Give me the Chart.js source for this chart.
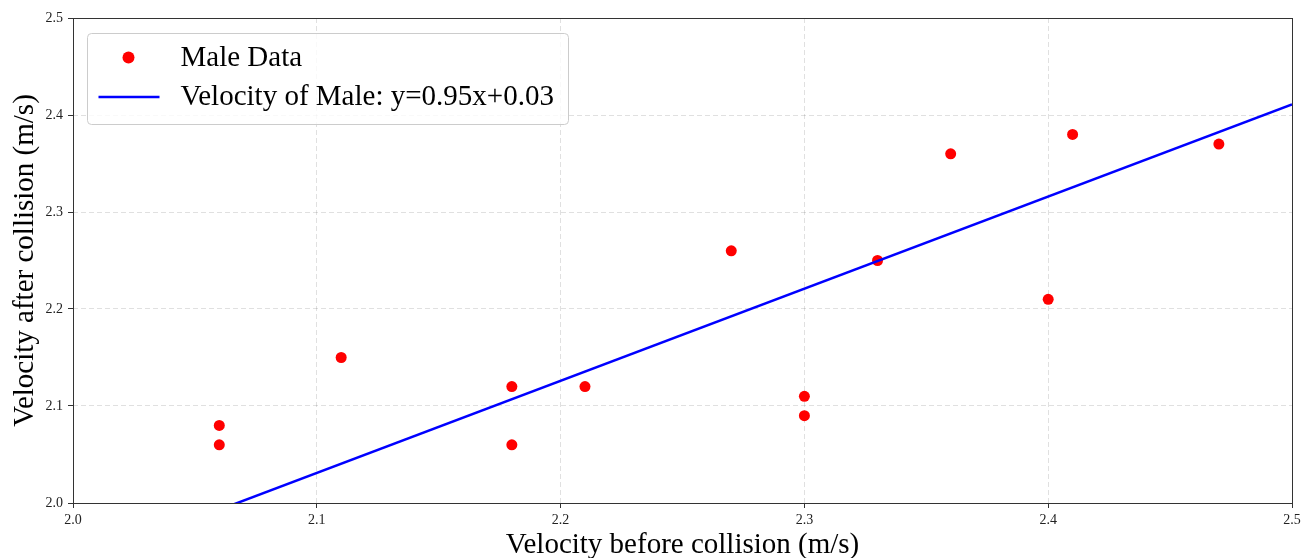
<!DOCTYPE html>
<html>
<head>
<meta charset="utf-8">
<script src="https://cdn.jsdelivr.net/npm/chart.js@4/dist/chart.umd.min.js"></script>
<style>
  html, body { margin: 0; padding: 0; background: #fff; }
  #wrap { width: 1313px; height: 558px; }
</style>
</head>
<body>
<div id="wrap"><canvas id="c" width="1313" height="558"></canvas></div>
<script>
// ---- data ----
const maleX = [2.06, 2.06, 2.11, 2.18, 2.18, 2.21, 2.27, 2.30, 2.30, 2.33, 2.36, 2.40, 2.41, 2.47];
const maleY = [2.08, 2.06, 2.15, 2.12, 2.06, 2.12, 2.26, 2.11, 2.09, 2.25, 2.36, 2.21, 2.38, 2.37];
const fitX = [2.0, 2.5];
const fitY = [1.936, 2.411];
const scatterLabel = 'Male Data';
const lineLabel = 'Velocity of Male: y=0.95x+0.03';
const xTitle = 'Velocity before collision (m/s)';
const yTitle = 'Velocity after collision (m/s)';
const xTicks = [2.0, 2.1, 2.2, 2.3, 2.4, 2.5];
const yTicks = [2.0, 2.1, 2.2, 2.3, 2.4, 2.5];

const SERIF = "'Liberation Serif', 'DejaVu Serif', serif";

const scatterData = maleX.map((x, i) => ({ x: x, y: maleY[i] }));
const lineData = fitX.map((x, i) => ({ x: x, y: fitY[i] }));

const spines = {
  id: 'spines',
  afterDatasetsDraw(chart) {
    const { ctx, chartArea: a } = chart;
    ctx.save();
    ctx.strokeStyle = '#333';
    ctx.lineWidth = 1;
    ctx.strokeRect(Math.round(a.left) + 0.5, Math.round(a.top) + 0.5,
                   Math.round(a.right - a.left), Math.round(a.bottom - a.top));
    ctx.restore();
  }
};

const legendBox = {
  id: 'legendBox',
  afterDraw(chart) {
    const { ctx, chartArea: a } = chart;
    const ds = chart.data.datasets;
    const sc = ds.find(d => d.type === 'scatter');
    const ln = ds.find(d => d.type === 'line');
    const x0 = a.left + 14.5, y0 = a.top + 15.5, w = 481, h = 91, r = 4;
    ctx.save();
    ctx.beginPath();
    ctx.moveTo(x0 + r, y0);
    ctx.lineTo(x0 + w - r, y0);
    ctx.quadraticCurveTo(x0 + w, y0, x0 + w, y0 + r);
    ctx.lineTo(x0 + w, y0 + h - r);
    ctx.quadraticCurveTo(x0 + w, y0 + h, x0 + w - r, y0 + h);
    ctx.lineTo(x0 + r, y0 + h);
    ctx.quadraticCurveTo(x0, y0 + h, x0, y0 + h - r);
    ctx.lineTo(x0, y0 + r);
    ctx.quadraticCurveTo(x0, y0, x0 + r, y0);
    ctx.closePath();
    ctx.fillStyle = 'rgba(255,255,255,0.8)';
    ctx.fill();
    ctx.strokeStyle = '#cccccc';
    ctx.lineWidth = 1;
    ctx.stroke();

    // scatter marker
    ctx.beginPath();
    ctx.arc(x0 + 41, y0 + 24, 6, 0, Math.PI * 2);
    ctx.fillStyle = sc.backgroundColor;
    ctx.fill();
    // line marker
    ctx.beginPath();
    ctx.moveTo(x0 + 11, y0 + 63.5);
    ctx.lineTo(x0 + 72, y0 + 63.5);
    ctx.strokeStyle = ln.borderColor;
    ctx.lineWidth = 2.5;
    ctx.stroke();

    ctx.fillStyle = '#000';
    ctx.font = '29px ' + SERIF;
    ctx.textBaseline = 'middle';
    ctx.textAlign = 'left';
    ctx.fillText(sc.label, x0 + 93, y0 + 25);
    ctx.fillText(ln.label, x0 + 93, y0 + 64);
    ctx.restore();
  }
};

new Chart(document.getElementById('c'), {
  data: {
    datasets: [
      {
        type: 'line',
        label: lineLabel,
        data: lineData,
        borderColor: '#0000ff',
        borderWidth: 2.5,
        pointRadius: 0,
        fill: false,
        tension: 0,
        order: 0
      },
      {
        type: 'scatter',
        label: scatterLabel,
        data: scatterData,
        backgroundColor: '#ff0000',
        borderColor: '#ff0000',
        borderWidth: 0,
        pointRadius: 5.5,
        order: 1
      }
    ]
  },
  options: {
    responsive: false,
    animation: false,
    layout: { padding: { left: 0, right: 21, top: 18, bottom: 0 } },
    plugins: {
      legend: { display: false },
      tooltip: { enabled: false }
    },
    scales: {
      x: {
        type: 'linear',
        position: 'bottom',
        min: xTicks[0],
        max: xTicks[xTicks.length - 1],
        afterBuildTicks(scale) { scale.ticks = xTicks.map(v => ({ value: v })); },
        afterFit(scale) { scale.height = 55; },
        border: { display: false, dash: [5, 3] },
        grid: {
          color: 'rgba(0,0,0,0.12)',
          lineWidth: 1,
          tickColor: '#333',
          tickLength: 5,
          tickBorderDash: []
        },
        ticks: {
          color: '#222',
          font: { family: SERIF, size: 14 },
          padding: 4,
          maxRotation: 0,
          callback: v => Number(v).toFixed(1)
        },
        title: {
          display: true,
          text: xTitle,
          color: '#000',
          font: { family: SERIF, size: 29, lineHeight: 0.88 },
          padding: { top: 0, bottom: 0 }
        }
      },
      y: {
        type: 'linear',
        position: 'left',
        min: yTicks[0],
        max: yTicks[yTicks.length - 1],
        afterBuildTicks(scale) { scale.ticks = yTicks.map(v => ({ value: v })); },
        afterFit(scale) { scale.width = 73; },
        border: { display: false, dash: [5, 3] },
        grid: {
          color: 'rgba(0,0,0,0.12)',
          lineWidth: 1,
          tickColor: '#333',
          tickLength: 5,
          tickBorderDash: []
        },
        ticks: {
          color: '#222',
          font: { family: SERIF, size: 14 },
          padding: 5,
          callback: v => Number(v).toFixed(1)
        },
        title: {
          display: true,
          text: yTitle,
          color: '#000',
          font: { family: SERIF, size: 29, lineHeight: 1 },
          padding: { top: 11, bottom: 0 }
        }
      }
    }
  },
  plugins: [spines, legendBox]
});
</script>
</body>
</html>
